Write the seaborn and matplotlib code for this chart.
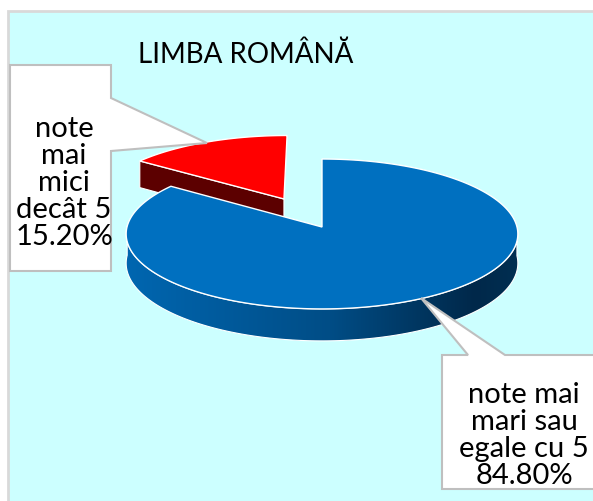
import numpy as np
import seaborn as sns
import matplotlib.pyplot as plt
from matplotlib.patches import Polygon, Rectangle

# data
categories = ["note mai mici decât 5", "note mai mari sau egale cu 5"]
values = [15.20, 84.80]
label_lines = [["note", "mai", "mici", "decât 5"], ["note mai", "mari sau", "egale cu 5"]]
explode = [0.44, 0.0]
top_colors = ["#FF0000", "#0070C0"]
side_colors = ["#5C0000", "#004A82"]
title = "LIMBA ROMÂNĂ"

sns.set_theme(style="white")
plt.rcParams["font.family"] = ["Lato", "DejaVu Sans"]

fig = plt.figure(figsize=(5.93, 5.02), dpi=100)
ax = fig.add_axes([0, 0, 1, 1])
ax.set_xlim(0, 593)
ax.set_ylim(502, 0)
ax.axis("off")

# plot area
ax.add_patch(Rectangle((8, 12), 600, 500, facecolor="#CCFFFF", edgecolor="#D9D9D9", lw=2, zorder=0))

# 3d pie projection (simple perspective)
cx, cy, A, B, D, k = 322, 228, 195, 74.3, 29, 0.093


def proj(u, v, z=0.0):
    s = 1.0 / (1 + k * v)
    return cx + A * u * s, cy - B * v * s + D * s * z


fracs = np.array(values) / np.sum(values)
starts = 90 + 360 * np.concatenate([[0], np.cumsum(fracs)[:-1]])
ends = starts + 360 * fracs

# wall shading, left to right
grad_x = [127, 330, 420, 475, 520]
grad_rgb = np.array([(0, 102, 176), (0, 77, 134), (0, 54, 96), (0, 40, 74), (0, 47, 82)]) / 255
xs = np.linspace(100, 560, 400)
grad_img = np.stack([np.interp(xs, grad_x, grad_rgb[:, j]) for j in range(3)], axis=-1)[None, :, :]

for i in [0, 1]:
    mid = np.radians((starts[i] + ends[i]) / 2)
    ou, ov = explode[i] * np.cos(mid), explode[i] * np.sin(mid)
    t = np.radians(np.linspace(starts[i], ends[i], 300))
    # outer wall, front half only
    tw = t[np.sin(t) <= 0.02]
    if len(tw) > 1:
        top = [proj(ou + np.cos(a), ov + np.sin(a)) for a in tw]
        bot = [proj(ou + np.cos(a), ov + np.sin(a), 1) for a in tw[::-1]]
        wall = Polygon(top + bot, closed=True, facecolor="none", edgecolor="white", lw=0.8, zorder=3 + 3 * i)
        ax.add_patch(wall)
        if i == 1:
            im = ax.imshow(grad_img, extent=(100, 560, 400, 150), aspect="auto", zorder=2 + 3 * i)
            im.set_clip_path(wall)
        else:
            wall.set_facecolor(side_colors[i])
    # radial cut face at end angle, visible when facing front
    te = np.radians(ends[i])
    if np.sin(te + np.pi / 2) < 0 and fracs[i] < 0.5:
        p = [proj(ou, ov), proj(ou + np.cos(te), ov + np.sin(te)),
             proj(ou + np.cos(te), ov + np.sin(te), 1), proj(ou, ov, 1)]
        ax.add_patch(Polygon(p, closed=True, facecolor=side_colors[i], edgecolor="white", lw=0.8, zorder=2 + 3 * i))
    # top face
    pts = [proj(ou, ov)] + [proj(ou + np.cos(a), ov + np.sin(a)) for a in t]
    ax.add_patch(Polygon(pts, closed=True, facecolor=top_colors[i], edgecolor="white", lw=1.0, zorder=4 + 3 * i))

# title
ax.text(246, 63, title, ha="center", va="baseline", fontsize=20, color="black", zorder=10)

# callouts
left_box = [(10, 66), (111, 66), (111, 99), (207, 144), (111, 152), (111, 272), (10, 272)]
right_box = [(442, 356), (468, 356), (421, 299), (505, 356), (600, 356), (600, 490), (442, 490)]
for poly in [left_box, right_box]:
    ax.add_patch(Polygon(poly, closed=True, facecolor="white", edgecolor="#BFBFBF", lw=1.5, zorder=8))

lines_left = label_lines[0] + [f"{values[0]:.2f}%"]
for j, s in enumerate(lines_left):
    ax.text(64, 137 + 27 * j, s, ha="center", va="baseline", fontsize=21, color="black", zorder=10)

clip = Rectangle((442, 356), 160, 127, transform=ax.transData)
lines_right = label_lines[1] + [f"{values[1]:.2f}%"]
for j, s in enumerate(lines_right):
    tx = ax.text(524, 403 + 27 * j, s, ha="center", va="baseline", fontsize=21, color="black", zorder=10)
    tx.set_clip_path(clip)

fig.savefig("out.png", dpi=100, facecolor="white")
